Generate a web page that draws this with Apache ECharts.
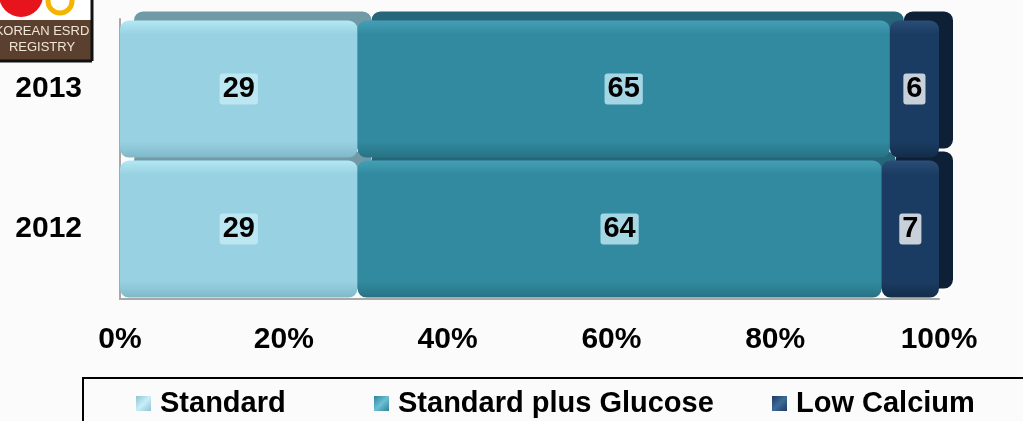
<!DOCTYPE html>
<html>
<head>
<meta charset="utf-8">
<script src="https://cdn.jsdelivr.net/npm/echarts@6/dist/echarts.min.js"></script>
<style>
html,body{margin:0;padding:0;background:#fbfbfb;}
#c{width:1023px;height:421px;}
</style>
</head>
<body>
<div id="c"></div>
<script>
var categories = ['2012', '2013'];
var seriesNames = ['Standard', 'Standard plus Glucose', 'Low Calcium'];
var standard = [29, 29];
var standardPlusGlucose = [64, 65];
var lowCalcium = [7, 6];

var FONT = '"Liberation Sans", Arial, sans-serif';

function grad(a, b, c) {
  return new echarts.graphic.LinearGradient(0, 0, 0, 1, [
    {offset: 0, color: a}, {offset: 0.1, color: b}, {offset: 0.88, color: b}, {offset: 1, color: c}
  ]);
}
function iconGrad(a, b) {
  return new echarts.graphic.LinearGradient(0, 0, 1, 1, [
    {offset: 0, color: a}, {offset: 0.5, color: b}, {offset: 1, color: a}
  ]);
}

var styles = [
  {fill: grad('#b4e8f5', '#98d2e2', '#80b8c8'), shadow: '#6f9aa6', label: 'rgba(190,232,242,0.95)', icon: iconGrad('#8fc3d2', '#c8eef8')},
  {fill: grad('#44a0b6', '#328aa0', '#287284'), shadow: '#25667a', label: 'rgba(172,218,232,0.95)', icon: iconGrad('#2f8298', '#6cc0d4')},
  {fill: grad('#2a4e78', '#1b3c62', '#132c4a'), shadow: '#0e2036', label: '#c8d0da', icon: iconGrad('#1b3c62', '#3e6a98')}
];
var dataSets = [standard, standardPlusGlucose, lowCalcium];
var legendLefts = [131, 369, 767];

var chart = echarts.init(document.getElementById('c'));
chart.setOption({
  backgroundColor: '#fbfbfb',
  animation: false,
  grid: {left: 120, right: 84, top: 19, bottom: 122, containLabel: false},
  xAxis: {
    type: 'value', min: 0, max: 100, interval: 20,
    axisLine: {show: true, lineStyle: {color: '#a8a8a8', width: 2}},
    axisTick: {show: false},
    splitLine: {show: false},
    axisLabel: {formatter: '{value}%', color: '#000', fontSize: 30, fontWeight: 'bold', fontFamily: FONT, margin: 26}
  },
  yAxis: {
    type: 'category', data: categories,
    axisLine: {show: true, lineStyle: {color: '#a8a8a8', width: 2}},
    axisTick: {show: false},
    axisLabel: {color: '#000', fontSize: 30, fontWeight: 'bold', fontFamily: FONT, margin: 38}
  },
  legend: seriesNames.map(function (n, i) {
    return {
      left: legendLefts[i], top: 384,
      itemWidth: 15, itemHeight: 15,
      textStyle: {color: '#000', fontSize: 29, fontWeight: 'bold', fontFamily: FONT, padding: [0, 0, 0, 4]},
      data: [{name: n, icon: 'rect', itemStyle: {color: styles[i].icon}}]
    };
  }),
  graphic: [
    {type: 'rect', shape: {x: 83, y: 378, width: 960, height: 60}, style: {fill: 'none', stroke: '#000', lineWidth: 2}},
    {type: 'group', children: [
      {type: 'rect', shape: {x: 0, y: 0, width: 92, height: 61}, style: {fill: '#ffffff'}},
      {type: 'circle', shape: {cx: 21, cy: -5, r: 22}, style: {fill: '#e8141c'}},
      {type: 'circle', shape: {cx: 60, cy: 1, r: 12}, style: {fill: 'none', stroke: '#f5b400', lineWidth: 5}},
      {type: 'rect', shape: {x: 0, y: 20, width: 91, height: 40}, style: {fill: '#5b4030'}},
      {type: 'text', style: {text: 'KOREAN ESRD', x: 42, y: 31, fill: '#efe6d6', fontSize: 13, fontFamily: FONT, align: 'center', verticalAlign: 'middle'}},
      {type: 'text', style: {text: 'REGISTRY', x: 42, y: 47, fill: '#efe6d6', fontSize: 13, fontFamily: FONT, align: 'center', verticalAlign: 'middle'}},
      {type: 'line', shape: {x1: 92, y1: 0, x2: 92, y2: 61}, style: {stroke: '#111', lineWidth: 3}},
      {type: 'line', shape: {x1: 0, y1: 61, x2: 92, y2: 61}, style: {stroke: '#111', lineWidth: 3}}
    ]}
  ],
  series: seriesNames.map(function (n, i) {
    return {
      name: n, type: 'bar', stack: 'total', data: dataSets[i],
      barCategoryGap: '2%',
      itemStyle: {
        color: styles[i].fill,
        borderRadius: 9,
        borderWidth: 0,
        shadowColor: styles[i].shadow, shadowOffsetX: 14, shadowOffsetY: -9, shadowBlur: 0
      },
      label: {
        show: true, position: 'inside', color: '#000', fontSize: 29, fontWeight: 'bold', fontFamily: FONT,
        backgroundColor: styles[i].label, padding: [2, 3, 0, 3], borderRadius: 3
      }
    };
  })
});
</script>
</body>
</html>
